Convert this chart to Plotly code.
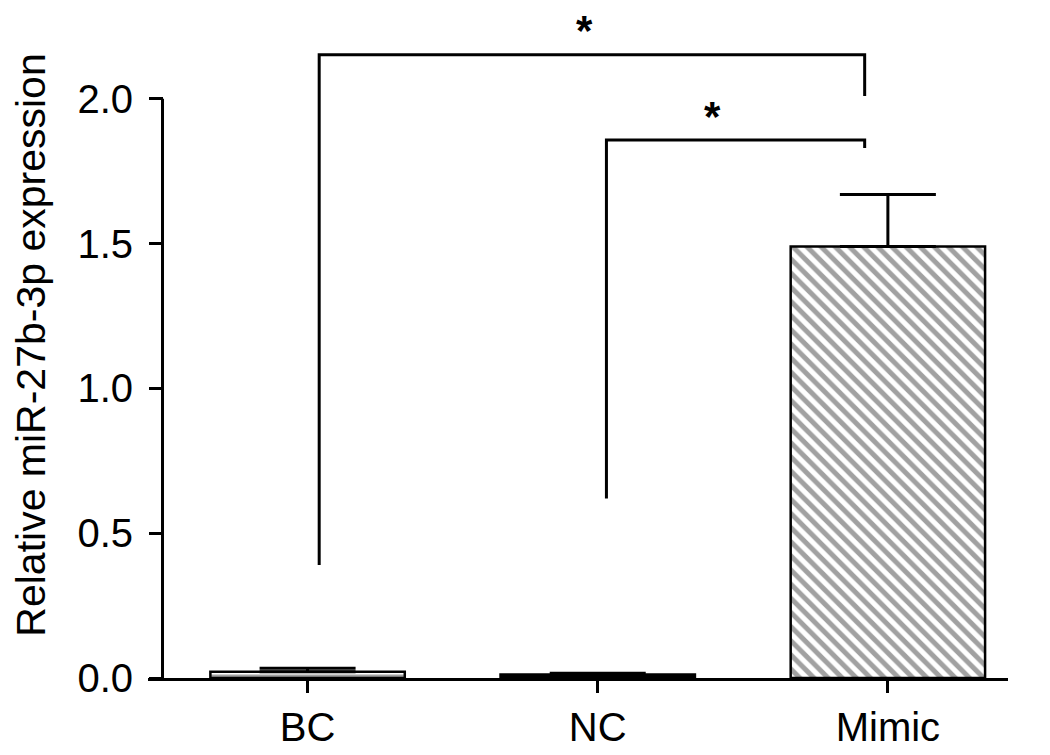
import plotly.graph_objects as go

# bar data
groups = ['BC', 'NC', 'Mimic']
means = [0.022, 0.012, 1.49]
errors = [0.012, 0.004, 0.18]

# significance brackets (left x, right x, top y, left leg end, right leg end)
brk_x0 = [0.04, 1.03]
brk_x1 = [1.92, 1.92]
brk_top = [2.152, 1.858]
brk_left_end = [0.39, 0.62]
brk_right_end = [2.01, 1.83]
star_x = [0.955, 1.397]
star_y = [2.235, 1.94]
star_txt = ['<b>*</b>', '<b>*</b>']

yticks = [0.0, 0.5, 1.0, 1.5, 2.0]
ytick_text = ['0.0', '0.5', '1.0', '1.5', '2.0']

FONT = 'Liberation Sans, Arial, sans-serif'

fig = go.Figure()
fig.add_trace(go.Bar(
    x=groups, y=means, width=0.67,
    marker=dict(color=['white', 'black', 'white'],
                line=dict(color='black', width=2.5),
                pattern=dict(shape=['-', '', '\\'], fgcolor='black', bgcolor='white',
                             size=10, solidity=0.5)),
    error_y=dict(type='data', array=errors, arrayminus=[0, 0, 0], symmetric=False,
                 color='black', thickness=3, width=48),
    showlegend=False,
))

# y axis line stops at 2.0
fig.add_shape(type='line', xref='x', yref='y', x0=-0.5, x1=-0.5, y0=0, y1=2.0,
              line=dict(color='black', width=3))

for i in range(len(brk_x0)):
    fig.add_shape(type='path', xref='x', yref='y',
                  path=f'M {brk_x0[i]},{brk_left_end[i]} L {brk_x0[i]},{brk_top[i]} '
                       f'L {brk_x1[i]},{brk_top[i]} L {brk_x1[i]},{brk_right_end[i]}',
                  line=dict(color='black', width=3))
    fig.add_annotation(x=star_x[i], y=star_y[i], text=star_txt[i], showarrow=False,
                       font=dict(size=42, color='black', family=FONT))

fig.update_layout(
    width=1050, height=755,
    margin=dict(l=140, r=50, t=4, b=85),
    plot_bgcolor='white', paper_bgcolor='white',
    font=dict(family=FONT, color='black'),
    xaxis=dict(range=[-0.55, 2.414], domain=[0, 1], showline=True, linecolor='black', linewidth=3,
               ticks='outside', ticklen=12, tickwidth=3, tickcolor='black',
               tickfont=dict(size=40), showgrid=False, zeroline=False, automargin=False),
    yaxis=dict(range=[0, 2.3], anchor='free', position=15 / 860, showline=False,
               tickvals=yticks, ticktext=ytick_text, ticks='outside', ticklen=14,
               tickwidth=3, tickcolor='black', tickfont=dict(size=40), ticklabelstandoff=8,
               showgrid=False, zeroline=False, automargin=False,
               title=dict(text='Relative miR-27b-3p expression', font=dict(size=41), standoff=24)),
)

fig.write_html('out.html')
